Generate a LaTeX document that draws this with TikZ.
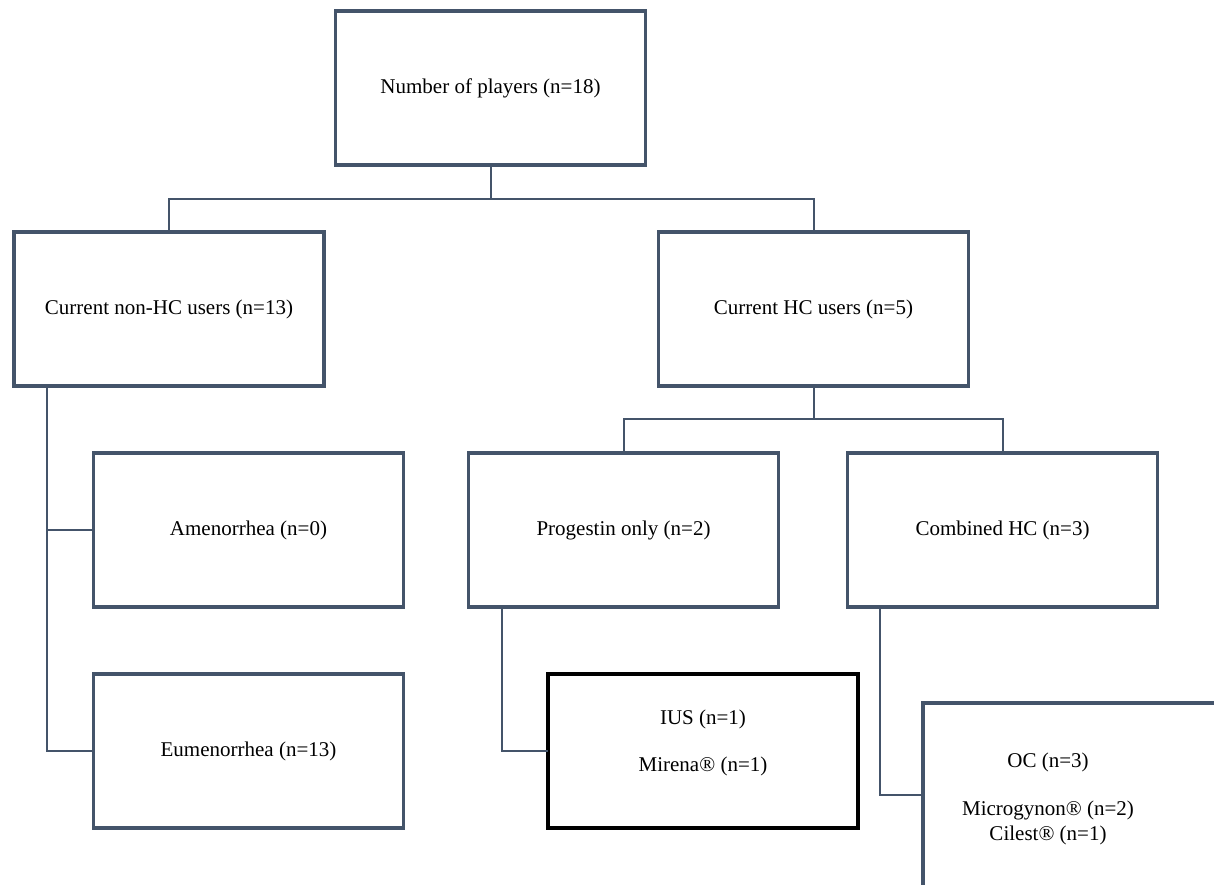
\documentclass[tikz,border=0pt]{standalone}
\usepackage{fontspec}
\setmainfont{Liberation Serif}
\usetikzlibrary{positioning,calc}
\definecolor{slate}{RGB}{68,84,106}

\begin{document}
\begin{tikzpicture}[x=1pt,y=-1pt,
    box/.style={draw=slate,line width=3.5pt,fill=white,minimum width=310pt,minimum height=154pt,
      inner sep=0pt,outer sep=0pt,align=center,font=\fontsize{21}{25}\selectfont},
    link/.style={draw=slate,line width=2pt},
    txt/.style={inner sep=0pt,align=center,font=\fontsize{21}{25}\selectfont}]
  \useasboundingbox (0,0) rectangle (1214,885);
  % top level
  \node[box] (players) at (490.5,88) {\raisebox{-2pt}{Number of players (n=18)}};
  % HC / non-HC
  \node[box] (nonhc) at (169,309) {Current non-HC users (n=13)};
  \node[box] (hc) at (813.5,309) {Current HC users (n=5)};
  % third row
  \node[box] (amen) at (248.5,530) {Amenorrhea (n=0)};
  \node[box] (prog) at (623.5,530) {Progestin only (n=2)};
  \node[box] (comb) at (1002.5,530) {Combined HC (n=3)};
  % bottom row
  \node[box] (eumen) at (248.5,751) {Eumenorrhea (n=13)};
  \node[box,draw=black,line width=4pt] (ius) at (703,751) {IUS (n=1)\\[22pt]Mirena® (n=1)\\[-4pt]};
  % OC box (runs off the page)
  \node[box,minimum width=330pt,minimum height=184pt,anchor=north west] (ocbox) at (923,703) {};
  \node[txt] (oc) at (1048,799) {OC (n=3)\\[23pt]Microgynon® (n=2)\\Cilest® (n=1)};
  % connectors
  \draw[link] (players.south) -- ++(0,34) -| (nonhc.north);
  \draw[link] (players.south) -- ++(0,34) -| (hc.north);
  \draw[link] (hc.south) -- ++(0,33) -| (prog.north);
  \draw[link] (hc.south) -- ++(0,33) -| (comb.north);
  \draw[link] ([xshift=33pt]nonhc.south west) |- (amen.west);
  \draw[link] ([xshift=33pt]nonhc.south west) |- (eumen.west);
  \draw[link] ([xshift=33pt]prog.south west) |- (ius.west);
  \draw[link] ([xshift=32pt]comb.south west) |- (ocbox.west);
\end{tikzpicture}
\end{document}
